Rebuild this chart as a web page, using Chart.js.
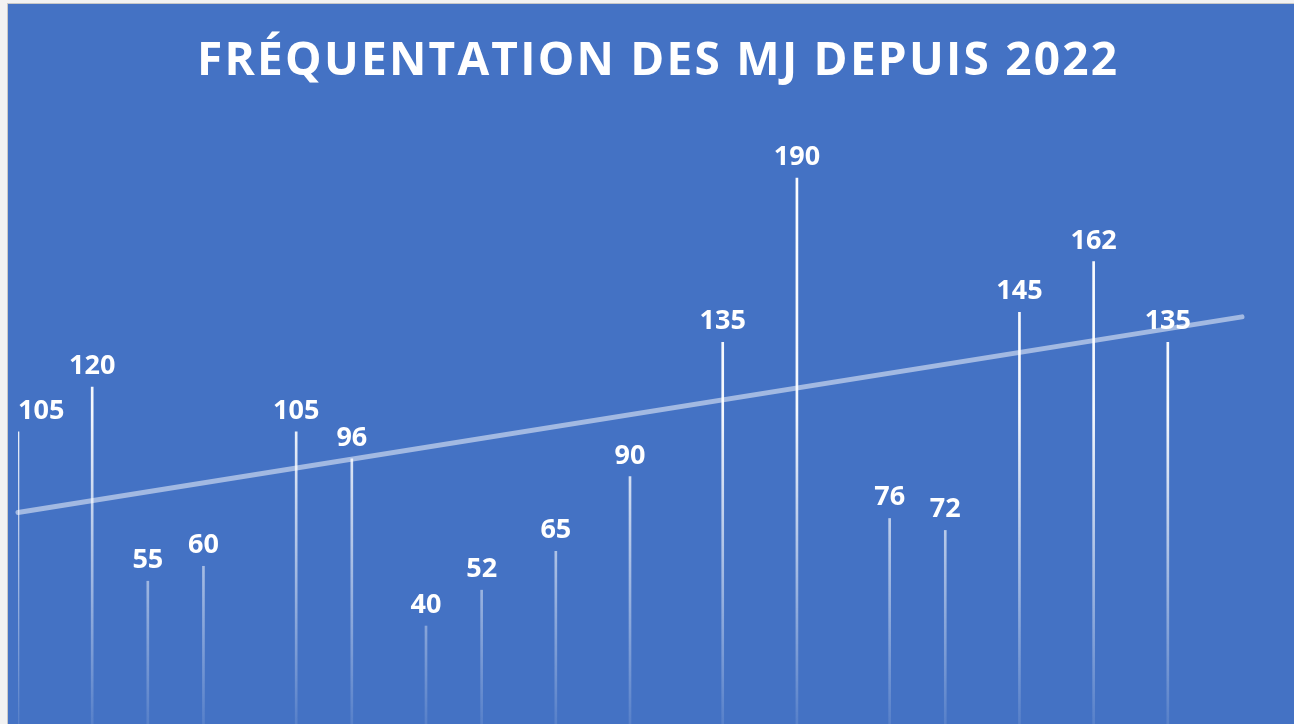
<!DOCTYPE html>
<html lang="fr">
<head>
<meta charset="utf-8">
<title>Fréquentation des MJ depuis 2022</title>
<script src="https://cdn.jsdelivr.net/npm/chart.js@4.4.0/dist/chart.umd.min.js"></script>
<style>
  html, body { margin: 0; padding: 0; background: #f2f2f2; overflow: hidden; }
  #cadre {
    position: absolute; left: 7px; top: 3px;
    width: 1286px; height: 720px;
    border-left: 1px solid #c8c8c8; border-top: 1px solid #c8c8c8;
    background: #4472c4;
  }
  #cadre canvas { display: block; }
</style>
</head>
<body>
<div id="cadre"><canvas id="frequentation" width="1286" height="720"></canvas></div>
<script>
var titre = 'FRÉQUENTATION DES MJ DEPUIS 2022';
// jours depuis le premier relevé
var jours = [0, 4, 7, 10, 15, 18, 22, 25, 29, 33, 38, 42, 47, 50, 54, 58, 62];
var visiteurs = [105, 120, 55, 60, 105, 96, 40, 52, 65, 90, 135, 190, 76, 72, 145, 162, 135];
// courbe de tendance
var tendanceX = [0, 66];
var tendanceY = [78, 143.5];

var points = jours.map(function(j, i) { return { x: j, y: visiteurs[i] }; });
var tendance = tendanceX.map(function(j, i) { return { x: j, y: tendanceY[i] }; });

function degrade(context) {
  var chart = context.chart, area = chart.chartArea;
  if (!area) return '#ffffff';
  var g = chart.ctx.createLinearGradient(0, area.top, 0, area.bottom);
  g.addColorStop(0, 'rgba(255,255,255,1)');
  g.addColorStop(0.5, 'rgba(255,255,255,0.95)');
  g.addColorStop(1, 'rgba(255,255,255,0.1)');
  return g;
}

var titrePlugin = {
  id: 'titre',
  afterDraw: function(chart) {
    var ctx = chart.ctx;
    ctx.save();
    ctx.font = 'bold 46px "Open Sans"';
    ctx.fillStyle = '#ffffff';
    ctx.textAlign = 'left';
    ctx.textBaseline = 'alphabetic';
    var largeur = ctx.measureText(titre).width;
    var espace = (920 - largeur) / (titre.length - 1);
    ctx.letterSpacing = espace.toFixed(2) + 'px';
    ctx.fillText(titre, 189, 71);
    ctx.restore();
  }
};

var etiquettes = {
  id: 'etiquettes',
  afterDatasetsDraw: function(chart) {
    var ctx = chart.ctx, area = chart.chartArea;
    var meta = chart.getDatasetMeta(0);
    ctx.save();
    ctx.font = 'bold 27px "Open Sans"';
    ctx.fillStyle = '#ffffff';
    ctx.textAlign = 'center';
    ctx.textBaseline = 'alphabetic';
    meta.data.forEach(function(bar, i) {
      var texte = String(visiteurs[i]);
      var w = ctx.measureText(texte).width;
      var x = Math.max(bar.x, area.left + w / 2);
      ctx.fillText(texte, x, bar.y - 13);
    });
    ctx.restore();
  }
};

function dessiner() {
  new Chart(document.getElementById('frequentation'), {
    type: 'bar',
    data: {
      datasets: [{
        type: 'bar',
        label: 'Fréquentation',
        data: points,
        backgroundColor: degrade,
        borderWidth: 0,
        barThickness: 2,
        order: 2
      }, {
        type: 'line',
        label: 'Tendance',
        data: tendance,
        borderColor: 'rgba(255,255,255,0.5)',
        borderWidth: 5,
        borderCapStyle: 'round',
        pointRadius: 0,
        fill: false,
        clip: false,
        order: 1
      }]
    },
    options: {
      responsive: false,
      animation: false,
      events: [],
      layout: {
        padding: { top: 96, left: 10, right: 52, bottom: 0 }
      },
      scales: {
        x: { type: 'linear', min: 0, max: 66, offset: false, display: false },
        y: { min: 7.2, max: 216.1, display: false }
      },
      plugins: {
        legend: { display: false },
        title: { display: false },
        tooltip: { enabled: false }
      }
    },
    plugins: [etiquettes, titrePlugin]
  });
}

if (document.fonts && document.fonts.load) {
  Promise.all([
    document.fonts.load('bold 46px "Open Sans"'),
    document.fonts.load('bold 27px "Open Sans"')
  ]).then(dessiner, dessiner);
} else {
  dessiner();
}
</script>
</body>
</html>
